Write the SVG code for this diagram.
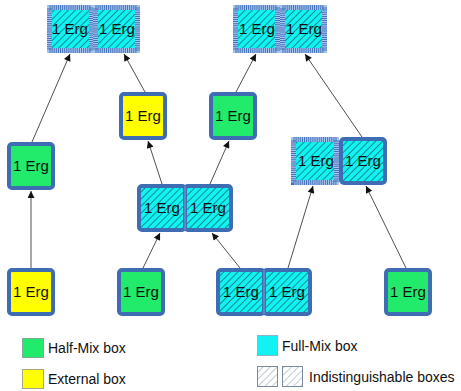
<svg xmlns="http://www.w3.org/2000/svg" width="461" height="391" viewBox="0 0 461 391">
  <style>
    .box { stroke: #3f6db3; stroke-width: 4; }
    .half { fill: #22ea6a; }
    .ext { fill: #ffff00; }
    .full { fill: url(#hatchCyan); }
    .fuzzA { fill: none; stroke: #a9c6ee; stroke-width: 5; }
    .fuzzB { fill: none; stroke: #4371ba; stroke-width: 5; stroke-dasharray: 1 1.1; }
    .sep { stroke: #8fb0dc; stroke-width: 0.8; }
    .lbl { font-family: "Liberation Sans", Arial, sans-serif; font-size: 15px; fill: #111; text-anchor: middle; }
    .leg { font-family: "Liberation Sans", Arial, sans-serif; font-size: 14px; fill: #111; }
    .edge { stroke: #222; stroke-width: 0.8; fill: none; marker-end: url(#arrow); }
  </style>
  <defs>
    <pattern id="hatchCyan" width="5" height="5" patternUnits="userSpaceOnUse" patternTransform="rotate(45)">
      <rect width="5" height="5" fill="#12f2f2"/>
      <line x1="0" y1="0" x2="0" y2="5" stroke="#0b2a2a" stroke-width="1"/>
    </pattern>
    <pattern id="hatchGrey" width="5" height="5" patternUnits="userSpaceOnUse" patternTransform="rotate(45)">
      <rect width="5" height="5" fill="#ffffff"/>
      <line x1="0" y1="0" x2="0" y2="5" stroke="#7a8ba0" stroke-width="0.9"/>
    </pattern>
    <marker id="arrow" viewBox="0 0 10 10" refX="10" refY="5" markerWidth="8" markerHeight="7" markerUnits="userSpaceOnUse" orient="auto">
      <path d="M0,0 L10,5 L0,10 z" fill="#111"/>
    </marker>
  </defs>

  <!-- connectors -->
  <g id="edges">
    <line class="edge" x1="32" y1="142" x2="70" y2="54"/>
    <line class="edge" x1="31" y1="268" x2="31" y2="191"/>
    <line class="edge" x1="145" y1="92" x2="124" y2="54"/>
    <line class="edge" x1="236" y1="92" x2="256" y2="54"/>
    <line class="edge" x1="162" y1="184" x2="148" y2="141"/>
    <line class="edge" x1="210" y1="184" x2="229" y2="141"/>
    <line class="edge" x1="143" y1="268" x2="160" y2="233"/>
    <line class="edge" x1="240" y1="268" x2="212" y2="233"/>
    <line class="edge" x1="288" y1="268" x2="313" y2="186"/>
    <line class="edge" x1="406" y1="268" x2="366" y2="186"/>
    <line class="edge" x1="362" y1="137" x2="305" y2="54"/>
  </g>

  <!-- top-left pair (fuzzy borders) -->
  <g id="n_top_left_a">
    <rect class="full" x="50" y="8" width="41" height="42"/>
    <rect class="fuzzA" x="49.5" y="7.5" width="42" height="43"/>
    <rect class="fuzzB" x="49.5" y="7.5" width="42" height="43"/>
    <text class="lbl" x="70" y="34">1 Erg</text>
  </g>
  <g id="n_top_left_b">
    <rect class="full" x="96" y="8" width="41" height="42"/>
    <rect class="fuzzA" x="95.5" y="7.5" width="42" height="43"/>
    <rect class="fuzzB" x="95.5" y="7.5" width="42" height="43"/>
    <text class="lbl" x="117" y="34">1 Erg</text>
  </g>

  <!-- top-right pair (fuzzy borders) -->
  <g id="n_top_right_a">
    <rect class="full" x="236" y="8" width="41" height="42"/>
    <rect class="fuzzA" x="235.5" y="7.5" width="42" height="43"/>
    <rect class="fuzzB" x="235.5" y="7.5" width="42" height="43"/>
    <text class="lbl" x="257" y="34">1 Erg</text>
  </g>
  <g id="n_top_right_b">
    <rect class="full" x="283" y="8" width="41" height="42"/>
    <rect class="fuzzA" x="282.5" y="7.5" width="42" height="43"/>
    <rect class="fuzzB" x="282.5" y="7.5" width="42" height="43"/>
    <text class="lbl" x="304" y="34">1 Erg</text>
  </g>

  <!-- single boxes -->
  <g id="n_left_half">
    <rect class="box half" x="9" y="144" width="44" height="44" rx="3"/>
    <text class="lbl" x="31" y="171">1 Erg</text>
  </g>
  <g id="n_mid_ext">
    <rect class="box ext" x="121" y="94" width="44" height="44" rx="3"/>
    <text class="lbl" x="143" y="121">1 Erg</text>
  </g>
  <g id="n_mid_half">
    <rect class="box half" x="211" y="94" width="44" height="44" rx="3"/>
    <text class="lbl" x="233" y="121">1 Erg</text>
  </g>

  <!-- middle pair -->
  <g id="n_mid_pair_a">
    <rect class="box full" x="139" y="186" width="46" height="44" rx="3"/>
    <text class="lbl" x="162" y="213">1 Erg</text>
  </g>
  <g id="n_mid_pair_b">
    <rect class="box full" x="185" y="186" width="46" height="44" rx="3"/>
    <line class="sep" x1="185" y1="186" x2="185" y2="230"/>
    <text class="lbl" x="208" y="213">1 Erg</text>
  </g>

  <!-- right pair -->
  <g id="n_right_pair_a">
    <rect class="full" x="294" y="140" width="42" height="42"/>
    <rect class="fuzzA" x="293.5" y="139.5" width="43" height="43"/>
    <rect class="fuzzB" x="293.5" y="139.5" width="43" height="43"/>
    <text class="lbl" x="316" y="166">1 Erg</text>
  </g>
  <g id="n_right_pair_b">
    <rect class="box full" x="341" y="139" width="44" height="44" rx="3"/>
    <text class="lbl" x="363" y="166">1 Erg</text>
  </g>

  <!-- bottom row -->
  <g id="n_bottom_ext">
    <rect class="box ext" x="9" y="270" width="44" height="44" rx="3"/>
    <text class="lbl" x="31" y="297">1 Erg</text>
  </g>
  <g id="n_bottom_half_a">
    <rect class="box half" x="119" y="270" width="44" height="44" rx="3"/>
    <text class="lbl" x="141" y="297">1 Erg</text>
  </g>
  <g id="n_bottom_pair_a">
    <rect class="box full" x="218" y="270" width="46" height="44" rx="3"/>
    <text class="lbl" x="241" y="297">1 Erg</text>
  </g>
  <g id="n_bottom_pair_b">
    <rect class="box full" x="264" y="270" width="46" height="44" rx="3"/>
    <line class="sep" x1="264" y1="270" x2="264" y2="314"/>
    <text class="lbl" x="287" y="297">1 Erg</text>
  </g>
  <g id="n_bottom_half_b">
    <rect class="box half" x="386" y="270" width="44" height="44" rx="3"/>
    <text class="lbl" x="408" y="297">1 Erg</text>
  </g>

  <!-- legend -->
  <g id="legend">
    <rect x="22.5" y="338.5" width="21" height="19" fill="#22ea6a" stroke="#7fa89a" stroke-width="1"/>
    <text class="leg" x="48" y="353">Half-Mix box</text>
    <rect x="22.5" y="369.5" width="21" height="19" fill="#ffff00" stroke="#a8a880" stroke-width="1"/>
    <text class="leg" x="48" y="384">External box</text>
    <rect x="257.5" y="335.5" width="20" height="20" fill="#12f2f2" stroke="#88b8c8" stroke-width="1"/>
    <text class="leg" x="282" y="351">Full-Mix box</text>
    <rect x="257.5" y="366.5" width="20" height="20" fill="url(#hatchGrey)" stroke="#7a8ba0" stroke-width="1"/>
    <rect x="282.5" y="366.5" width="20" height="20" fill="url(#hatchGrey)" stroke="#7a8ba0" stroke-width="1"/>
    <text class="leg" x="309" y="382">Indistinguishable boxes</text>
  </g>
</svg>
